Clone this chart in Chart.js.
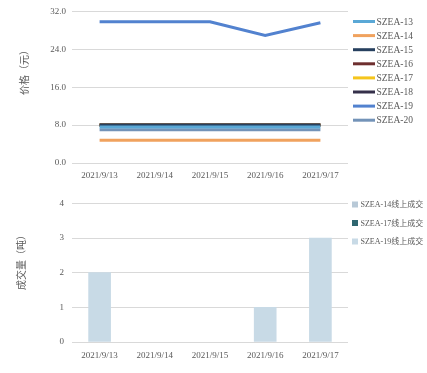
<!DOCTYPE html>
<html>
<head>
<meta charset="utf-8">
<script src="https://cdn.jsdelivr.net/npm/chart.js@4.4.1/dist/chart.umd.min.js"></script>
<style>
  html, body { margin: 0; padding: 0; background: #ffffff; }
  body { width: 427px; height: 373px; position: relative; overflow: hidden; }
  #wrapTop { position: absolute; left: 0; top: 0; width: 427px; height: 190px; }
  #wrapBot { position: absolute; left: 0; top: 190px; width: 427px; height: 183px; }
</style>
</head>
<body>
<div id="wrapTop"><canvas id="priceChart"></canvas></div>
<div id="wrapBot"><canvas id="volChart"></canvas></div>
<script>
// ---- data ----
const categories = ['2021/9/13', '2021/9/14', '2021/9/15', '2021/9/16', '2021/9/17'];

const seriesNames = ['SZEA-13', 'SZEA-14', 'SZEA-15', 'SZEA-16', 'SZEA-17', 'SZEA-18', 'SZEA-19', 'SZEA-20'];
const szea13 = [7.6, 7.6, 7.6, 7.6, 7.6];
const szea14 = [4.8, 4.8, 4.8, 4.8, 4.8];
const szea15 = [8.0, 8.0, 8.0, 8.0, 8.0];
const szea16 = [8.0, 8.0, 8.0, 8.0, 8.0];
const szea17 = [8.0, 8.0, 8.0, 8.0, 8.0];
const szea18 = [8.0, 8.0, 8.0, 8.0, 8.0];
const szea19 = [29.8, 29.8, 29.8, 26.9, 29.6];
const szea20 = [7.0, 7.0, 7.0, 7.0, 7.0];

const priceTicks = [0, 8, 16, 24, 32];
const priceTitle = '价格（元）';

const volNames = ['SZEA-14线上成交', 'SZEA-17线上成交', 'SZEA-19线上成交'];
const vol14 = [null, null, null, null, null];
const vol17 = [null, null, null, null, null];
const vol19 = [2, null, null, 1, 3];
const volTicks = [0, 1, 2, 3, 4];
const volTitle = '成交量（吨）';

// ---- styles ----
const lineColors = ['#5aa8d6', '#f0a25e', '#27405f', '#6e2f2f', '#f5c51c', '#35304a', '#5282cf', '#7393b8'];
const barColors = ['#b8c9d7', '#2f6670', '#c8dae6'];
const FONT = "'Liberation Serif', 'DejaVu Serif', 'Noto Sans CJK SC', serif";
const TXT = '#595959';
const GRID = '#d9d9d9';

const lineData = [szea13, szea14, szea15, szea16, szea17, szea18, szea19, szea20];
const volData = [vol14, vol17, vol19];

function drawVTitle(ctx, text, x, y) {
  ctx.save();
  ctx.translate(x, y);
  ctx.rotate(-Math.PI / 2);
  ctx.fillStyle = TXT;
  ctx.font = "10px 'Noto Sans CJK SC', sans-serif";
  ctx.textAlign = 'center';
  ctx.textBaseline = 'middle';
  ctx.fillText(text, 0, 0);
  ctx.restore();
}

const lineLegend = {
  id: 'lineLegend',
  afterDraw(chart) {
    const ctx = chart.ctx;
    ctx.save();
    chart.data.datasets.forEach((ds, i) => {
      const y = 21.5 + i * 14.1;
      ctx.strokeStyle = ds.borderColor;
      ctx.lineWidth = 3;
      ctx.beginPath();
      ctx.moveTo(353, y);
      ctx.lineTo(375, y);
      ctx.stroke();
      ctx.fillStyle = TXT;
      ctx.font = "9.5px " + FONT;
      ctx.textBaseline = 'middle';
      ctx.textAlign = 'left';
      ctx.fillText(ds.label, 376.5, y + 0.5);
    });
    ctx.restore();
    drawVTitle(ctx, priceTitle, 24, 70);
  }
};

const barLegend = {
  id: 'barLegend',
  afterDraw(chart) {
    const ctx = chart.ctx;
    ctx.save();
    chart.data.datasets.forEach((ds, i) => {
      const y = 14.5 + i * 18.5;
      ctx.fillStyle = ds.backgroundColor;
      ctx.fillRect(352, y - 3, 6, 6);
      ctx.fillStyle = TXT;
      ctx.font = "8px " + FONT;
      ctx.textBaseline = 'middle';
      ctx.textAlign = 'left';
      ctx.fillText(ds.label, 360.5, y + 0.5);
    });
    ctx.restore();
    drawVTitle(ctx, volTitle, 21, 70);
  }
};

Chart.defaults.font.family = FONT;
Chart.defaults.color = TXT;

new Chart(document.getElementById('priceChart'), {
  type: 'line',
  data: {
    labels: categories,
    datasets: seriesNames.map((n, i) => ({
      label: n,
      data: lineData[i],
      borderColor: lineColors[i],
      backgroundColor: lineColors[i],
      borderWidth: 3,
      pointRadius: 0,
      tension: 0,
      fill: false
    }))
  },
  options: {
    responsive: true,
    maintainAspectRatio: false,
    animation: false,
    layout: { padding: { left: 0, right: 79, top: 11, bottom: 0 } },
    plugins: { legend: { display: false }, tooltip: { enabled: false } },
    scales: {
      x: {
        offset: true,
        grid: { display: false, drawTicks: false },
        border: { display: false },
        ticks: { padding: 7, maxRotation: 0, font: { size: 9 }, color: TXT },
        afterFit(s) { s.height = 27; }
      },
      y: {
        min: 0, max: 32,
        afterBuildTicks(s) { s.ticks = priceTicks.map(v => ({ value: v })); },
        grid: { color: GRID, drawTicks: false, lineWidth: 1 },
        border: { display: false },
        ticks: { padding: 6, font: { size: 9 }, color: TXT, callback: v => Number(v).toFixed(1) },
        afterFit(s) { s.width = 72; }
      }
    }
  },
  plugins: [lineLegend]
});

new Chart(document.getElementById('volChart'), {
  type: 'bar',
  data: {
    labels: categories,
    datasets: volNames.map((n, i) => ({
      label: n,
      data: volData[i],
      backgroundColor: barColors[i],
      borderWidth: 0,
      barThickness: 22
    }))
  },
  options: {
    responsive: true,
    maintainAspectRatio: false,
    animation: false,
    layout: { padding: { left: 0, right: 79, top: 8, bottom: 0 } },
    plugins: { legend: { display: false }, tooltip: { enabled: false } },
    scales: {
      x: {
        stacked: true,
        grid: { display: false, drawTicks: false },
        border: { display: false },
        ticks: { padding: 8, maxRotation: 0, font: { size: 9 }, color: TXT },
        afterFit(s) { s.height = 31; }
      },
      y: {
        stacked: true,
        min: 0, max: 4,
        afterBuildTicks(s) { s.ticks = volTicks.map(v => ({ value: v })); },
        grid: { color: GRID, drawTicks: false, lineWidth: 1 },
        border: { display: false },
        ticks: { padding: 8, font: { size: 9 }, color: TXT },
        afterFit(s) { s.width = 72; }
      }
    }
  },
  plugins: [barLegend]
});
</script>
</body>
</html>
